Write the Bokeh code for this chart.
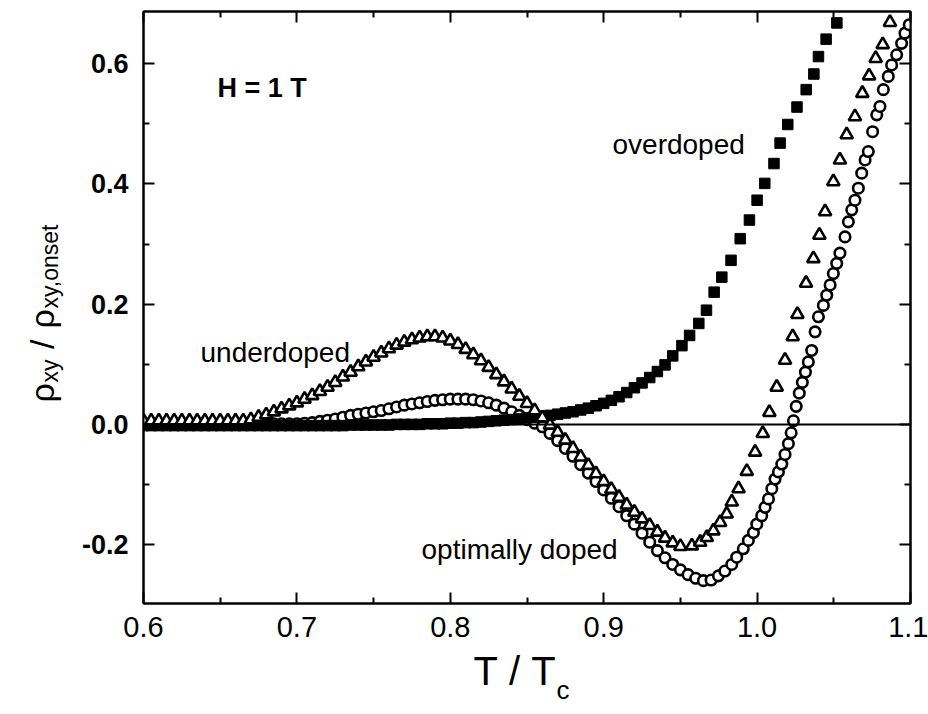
import math
from bokeh.plotting import figure
from bokeh.models import FixedTicker, LinearAxis, Span, Label, GridBox, Range1d
from bokeh.core.properties import value
from bokeh.embed import file_html
from bokeh.resources import INLINE

# ---------------- data ----------------
# overdoped (filled squares)
t_over = [0.600, 0.605, 0.610, 0.615, 0.620, 0.625, 0.630, 0.635, 0.640, 0.645,
          0.650, 0.655, 0.660, 0.665, 0.670, 0.675, 0.680, 0.685, 0.690, 0.695,
          0.700, 0.705, 0.710, 0.715, 0.720, 0.725, 0.730, 0.735, 0.740, 0.745,
          0.750, 0.755, 0.760, 0.765, 0.770, 0.775, 0.780, 0.785, 0.790, 0.795,
          0.800, 0.805, 0.810, 0.815, 0.820, 0.825, 0.830, 0.835, 0.840, 0.845,
          0.850, 0.855, 0.860, 0.865, 0.870, 0.875, 0.880, 0.885, 0.890, 0.895,
          0.900, 0.905, 0.910, 0.915, 0.920, 0.925, 0.930, 0.935, 0.940,
          0.945, 0.951, 0.956, 0.962, 0.967, 0.972, 0.977, 0.983, 0.989, 0.995,
          1.000, 1.005, 1.011, 1.015, 1.020, 1.026, 1.032, 1.037, 1.040, 1.045, 1.052]
v_over = [-0.002, -0.002, -0.002, -0.002, -0.002, -0.002, -0.002, -0.002, -0.002, -0.002,
          -0.002, -0.002, -0.002, -0.002, -0.002, -0.002, -0.002, -0.002, -0.002, -0.002,
          -0.002, -0.002, -0.002, -0.002, -0.002, -0.002, -0.002, -0.001, -0.001, -0.001,
          -0.001, -0.001, -0.001, 0.000, 0.000, 0.000, 0.000, 0.001, 0.001, 0.001,
          0.002, 0.002, 0.003, 0.003, 0.004, 0.005, 0.006, 0.007, 0.008, 0.009,
          0.011, 0.012, 0.014, 0.015, 0.017, 0.019, 0.021, 0.024, 0.027, 0.031,
          0.035, 0.040, 0.046, 0.053, 0.061, 0.069, 0.078, 0.088, 0.099,
          0.114, 0.131, 0.148, 0.168, 0.190, 0.220, 0.245, 0.273, 0.309, 0.340,
          0.373, 0.401, 0.434, 0.468, 0.499, 0.528, 0.557, 0.583, 0.612, 0.641, 0.668]

# optimally doped (open circles)
t_opt = [0.600, 0.605, 0.610, 0.615, 0.620, 0.625, 0.630, 0.635, 0.640, 0.645,
         0.650, 0.655, 0.660, 0.665, 0.670, 0.675, 0.680, 0.685, 0.690, 0.695,
         0.700, 0.705, 0.710, 0.715, 0.720, 0.725, 0.730, 0.735, 0.740, 0.745,
         0.750, 0.755, 0.760, 0.765, 0.770, 0.775, 0.780, 0.785, 0.790, 0.795,
         0.800, 0.805, 0.810, 0.815, 0.820, 0.825, 0.830, 0.835, 0.840, 0.845,
         0.850, 0.855, 0.860, 0.865, 0.870, 0.875, 0.880, 0.885, 0.890, 0.895,
         0.900, 0.905, 0.910, 0.915, 0.920, 0.925, 0.930, 0.935, 0.940, 0.945,
         0.950, 0.955, 0.960, 0.965, 0.970,
         0.9748, 0.9790, 0.9835, 0.9867, 0.9910, 0.9943, 0.9976, 0.9998, 1.0030, 1.0052,
         1.0074, 1.0096, 1.0117, 1.0139, 1.0161, 1.0182, 1.0204, 1.0222, 1.0237, 1.0255,
         1.0275, 1.0295, 1.0315, 1.0334, 1.0356, 1.0378, 1.0400, 1.0432, 1.0454, 1.0476,
         1.0497, 1.0519, 1.0540, 1.0573, 1.0595, 1.0617, 1.0638, 1.0660, 1.0682, 1.0704,
         1.0725, 1.0753, 1.0780, 1.0801, 1.0823, 1.0855, 1.0877, 1.0910, 1.0942, 1.0964, 1.0992]
v_opt = [0.000, 0.000, 0.000, 0.000, 0.000, 0.000, 0.000, 0.000, 0.000, 0.000,
         0.000, 0.000, 0.000, 0.000, 0.000, 0.000, 0.000, 0.001, 0.001, 0.001,
         0.001, 0.002, 0.003, 0.005, 0.007, 0.009, 0.012, 0.015, 0.017, 0.019,
         0.021, 0.023, 0.026, 0.029, 0.032, 0.034, 0.036, 0.038, 0.040, 0.041,
         0.042, 0.042, 0.042, 0.041, 0.039, 0.036, 0.032, 0.027, 0.021, 0.015,
         0.008, 0.002, -0.004, -0.015, -0.027, -0.040, -0.053, -0.067, -0.081, -0.095,
         -0.109, -0.123, -0.137, -0.152, -0.166, -0.181, -0.196, -0.210, -0.222, -0.233,
         -0.242, -0.250, -0.256, -0.260, -0.259,
         -0.252, -0.244, -0.233, -0.221, -0.207, -0.193, -0.180, -0.166, -0.152, -0.138,
         -0.124, -0.107, -0.091, -0.079, -0.066, -0.050, -0.032, -0.014, 0.006, 0.030,
         0.052, 0.070, 0.087, 0.104, 0.123, 0.154, 0.179, 0.198, 0.215, 0.232,
         0.251, 0.268, 0.285, 0.312, 0.337, 0.357, 0.373, 0.393, 0.418, 0.440,
         0.454, 0.487, 0.515, 0.529, 0.557, 0.579, 0.598, 0.615, 0.634, 0.651, 0.665]

# underdoped (open triangles)
t_under = [0.600, 0.605, 0.610, 0.615, 0.620, 0.625, 0.630, 0.635, 0.640, 0.645,
           0.650, 0.655, 0.660, 0.665, 0.670, 0.675, 0.680, 0.685, 0.690, 0.695,
           0.700, 0.705, 0.710, 0.715, 0.720, 0.725, 0.730, 0.735, 0.740, 0.745,
           0.750, 0.755, 0.760, 0.765, 0.770, 0.775, 0.780, 0.785, 0.790, 0.795,
           0.800, 0.805, 0.810, 0.815, 0.820, 0.825, 0.830, 0.835, 0.840, 0.845,
           0.850, 0.855, 0.860, 0.865, 0.870, 0.875, 0.880, 0.885, 0.890, 0.895,
           0.900, 0.905, 0.910, 0.915, 0.920, 0.925, 0.930, 0.935, 0.940, 0.945, 0.950,
           0.9575, 0.9629, 0.9672, 0.9715, 0.9759, 0.9802, 0.9835, 0.9879, 0.9933, 0.9987,
           1.0037, 1.0080, 1.0128, 1.0182, 1.0232, 1.0263, 1.0319, 1.0367, 1.0406, 1.0443,
           1.0497, 1.0540, 1.0584, 1.0638, 1.0686, 1.0730, 1.0773, 1.0819, 1.0866]
v_under = [0.006, 0.006, 0.006, 0.006, 0.006, 0.006, 0.006, 0.006, 0.006, 0.006,
           0.006, 0.006, 0.006, 0.006, 0.008, 0.012, 0.016, 0.021, 0.026, 0.031,
           0.036, 0.042, 0.048, 0.055, 0.062, 0.070, 0.079, 0.087, 0.096, 0.104,
           0.112, 0.119, 0.126, 0.132, 0.137, 0.141, 0.144, 0.146, 0.146, 0.144,
           0.139, 0.133, 0.125, 0.116, 0.106, 0.095, 0.083, 0.071, 0.059, 0.047,
           0.035, 0.023, 0.011, -0.001, -0.013, -0.026, -0.040, -0.054, -0.068, -0.082,
           -0.095, -0.108, -0.121, -0.134, -0.146, -0.157, -0.168, -0.179, -0.189, -0.197, -0.203,
           -0.202, -0.196, -0.188, -0.177, -0.163, -0.149, -0.129, -0.107, -0.078, -0.046,
           -0.015, 0.020, 0.062, 0.107, 0.146, 0.183, 0.235, 0.276, 0.315, 0.354,
           0.404, 0.440, 0.482, 0.512, 0.551, 0.580, 0.609, 0.632, 0.669]

x_major = [0.6, 0.7, 0.8, 0.9, 1.0, 1.1]
x_minor = [0.65, 0.75, 0.85, 0.95, 1.05]
y_major = [-0.2, 0.0, 0.2, 0.4, 0.6]
y_minor = [-0.3, -0.1, 0.1, 0.3, 0.5]

# ---------------- layout ----------------
W, H = 928, 714
FL, FR, FT, FB = 143, 18, 11, 111          # frame borders in px
X0, X1 = 0.6, 1.1
Y0, Y1 = -0.298, 0.687
FW, FH = W - FL - FR, H - FT - FB
FONT = "Liberation Sans"
NB = "\u00a0"


def px2x(px):
    return X0 + (px - FL) / FW * (X1 - X0)


def py2y(py):
    return Y1 - (py - FT) / FH * (Y1 - Y0)


p = figure(width=W, height=H, x_range=(X0, X1), y_range=(Y0, Y1),
           output_backend="svg", toolbar_location=None,
           min_border_left=FL, min_border_right=FR,
           min_border_top=FT, min_border_bottom=FB)
p.frame_align = False
p.grid.visible = False
p.background_fill_color = "white"
p.border_fill_color = "white"
p.outline_line_color = "black"
p.outline_line_width = 2


def style_axis(ax, show_labels):
    ax.axis_line_color = "black"
    ax.axis_line_width = 2
    ax.major_tick_in = 11
    ax.major_tick_out = 0
    ax.minor_tick_in = 6
    ax.minor_tick_out = 0
    ax.major_tick_line_width = 2
    ax.minor_tick_line_width = 2
    ax.major_tick_line_color = "black"
    ax.minor_tick_line_color = "black"
    ax.axis_label = None
    if not show_labels:
        ax.major_label_text_font_size = "0px"
        ax.major_label_standoff = 0


bx = p.xaxis[0]
bx.ticker = FixedTicker(ticks=x_major, minor_ticks=x_minor)
style_axis(bx, True)
bx.major_label_overrides = {v: f"{v:.1f}" for v in x_major}
bx.major_label_text_font = FONT
bx.major_label_text_font_size = "29px"
bx.major_label_text_color = "black"
bx.major_label_standoff = 13

ly = p.yaxis[0]
ly.ticker = FixedTicker(ticks=y_major, minor_ticks=y_minor)
style_axis(ly, True)
ly.major_label_overrides = {v: f"{v:.1f}" for v in y_major}
ly.major_label_text_font = FONT
ly.major_label_text_font_style = "bold"
ly.major_label_text_font_size = "27px"
ly.major_label_text_color = "black"
ly.major_label_standoff = 15

tx = LinearAxis(ticker=FixedTicker(ticks=x_major, minor_ticks=x_minor))
style_axis(tx, False)
tx.major_label_overrides = {v: "" for v in x_major}
p.add_layout(tx, "above")

ry = LinearAxis(ticker=FixedTicker(ticks=y_major, minor_ticks=y_minor))
style_axis(ry, False)
ry.major_label_overrides = {v: "" for v in y_major}
p.add_layout(ry, "right")

p.add_layout(Span(location=0, dimension="width", line_color="black", line_width=2))

# ---------------- series ----------------
p.scatter(t_opt, v_opt, marker="circle", size=10.5, fill_color="white",
          line_color="black", line_width=2.6)
p.scatter(t_over, v_over, marker="square", size=10.5, fill_color="black",
          line_color="black", line_width=1)
p.scatter(t_under, v_under, marker="triangle", size=12.5, fill_color="white",
          line_color="black", line_width=2.6)


# ---------------- in-plot annotations ----------------
def add_label(txt, px, py, size, bold=False):
    p.add_layout(Label(x=px2x(px), y=py2y(py), text=txt, text_font=FONT,
                       text_font_size=f"{size}px",
                       text_font_style="bold" if bold else "normal",
                       text_color="black", text_align="left", text_baseline="middle"))


add_label("H = 1 T", 217, 87, 27, bold=True)
add_label("overdoped", 612, 144, 28)
add_label("underdoped", 200, 352, 28)
add_label("optimally doped", 421, 549, 28)

# ---------------- axis titles (transparent overlay over the whole canvas) ----------------
ov = figure(width=W, height=H, x_range=Range1d(0, W), y_range=Range1d(0, H),
            output_backend="svg", toolbar_location=None,
            x_axis_location=None, y_axis_location=None, min_border=0)
ov.frame_align = False
ov.grid.visible = False
ov.outline_line_color = None
ov.background_fill_color = None
ov.border_fill_color = None


def ov_text(txt, px, py, size, angle=0.0):
    ov.text(x=[px], y=[H - py], text=[txt], angle=angle,
            text_font=value(FONT), text_font_size=value(f"{size}px"),
            text_color="black", text_align="left", text_baseline="alphabetic")


# x title: T / T_c
ov_text(f"T{NB}/{NB}T", 473, 670, 40)
ov_text("c", 556, 689, 26)

# y title: rho_xy / rho_xy,onset (rotated)
R = math.pi / 2
ov_text("ρ", 41, 402, 34, R)
ov_text("xy", 49, 382, 23, R)
ov_text(f"{NB}/{NB}", 41, 358, 34, R)
ov_text("ρ", 41, 328, 34, R)
ov_text("xy,onset", 49, 308, 23, R)

layout = GridBox(children=[(p, 0, 0), (ov, 0, 0)])

open("out.html", "w").write(file_html(layout, INLINE))
